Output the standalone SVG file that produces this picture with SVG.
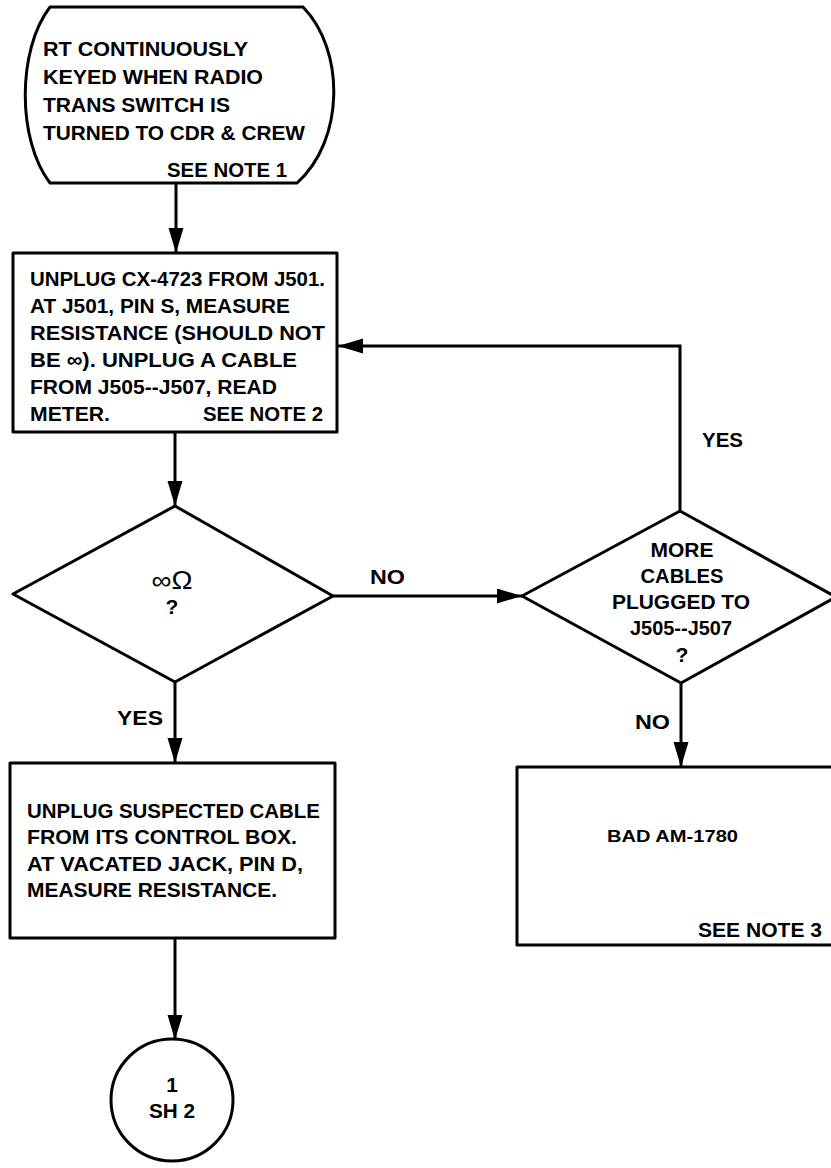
<svg xmlns="http://www.w3.org/2000/svg" width="831" height="1168" viewBox="0 0 831 1168">
<defs>
<marker id="arr" markerUnits="userSpaceOnUse" markerWidth="26" markerHeight="16" refX="25" refY="7.5" orient="auto">
<path d="M0,0 L25,7.5 L0,15 z" fill="#000"/>
</marker>
<style>
.shape{fill:#fff;stroke:#000;stroke-width:3;stroke-linejoin:round}
.conn{fill:none;stroke:#000;stroke-width:3;marker-end:url(#arr)}
text{font-family:"Liberation Sans",Arial,sans-serif;font-weight:bold;font-size:21px;fill:#000}
.c{text-anchor:middle}
.thin{font-weight:bold;font-size:17px}
.sym{font-size:25px;font-weight:normal}
</style>
</defs>
<rect width="831" height="1168" fill="#fff"/>

<g id="connectors">
<path class="conn" d="M176,184 L176,253"/>
<path class="conn" d="M175,433 L175,506"/>
<path class="conn" d="M333,596 L522,596"/>
<path class="conn" d="M680,511 L680,346 L338,346"/>
<path class="conn" d="M175,682 L175,763"/>
<path class="conn" d="M681,683 L681,767"/>
<path class="conn" d="M175,938 L175,1040"/>
<text x="370" y="584" textLength="35" lengthAdjust="spacingAndGlyphs">NO</text>
<text x="702" y="447" textLength="41" lengthAdjust="spacingAndGlyphs">YES</text>
<text x="117" y="725" textLength="46" lengthAdjust="spacingAndGlyphs">YES</text>
<text x="635" y="729" textLength="35" lengthAdjust="spacingAndGlyphs">NO</text>
</g>

<g id="start">
<path class="shape" d="M50,7 L303,7 C345,50 345,140 297,183 L50,183 C17,140 17,50 50,7 Z"/>
<text x="43" y="56" textLength="205" lengthAdjust="spacingAndGlyphs">RT CONTINUOUSLY</text>
<text x="43" y="84" textLength="220" lengthAdjust="spacingAndGlyphs">KEYED WHEN RADIO</text>
<text x="43" y="112" textLength="187" lengthAdjust="spacingAndGlyphs">TRANS SWITCH IS</text>
<text x="43" y="140" textLength="262" lengthAdjust="spacingAndGlyphs">TURNED TO CDR &amp; CREW</text>
<text x="167" y="177" textLength="120" lengthAdjust="spacingAndGlyphs">SEE NOTE 1</text>
</g>

<g id="step1">
<rect class="shape" x="13" y="253" width="324" height="179"/>
<text x="30" y="286" textLength="295" lengthAdjust="spacingAndGlyphs">UNPLUG CX-4723 FROM J501.</text>
<text x="30" y="313" textLength="260" lengthAdjust="spacingAndGlyphs">AT J501, PIN S, MEASURE</text>
<text x="30" y="340" textLength="295" lengthAdjust="spacingAndGlyphs">RESISTANCE (SHOULD NOT</text>
<text x="30" y="367" textLength="267" lengthAdjust="spacingAndGlyphs">BE ∞).  UNPLUG A CABLE</text>
<text x="30" y="394" textLength="247" lengthAdjust="spacingAndGlyphs">FROM J505--J507, READ</text>
<text x="30" y="421" textLength="80" lengthAdjust="spacingAndGlyphs">METER.</text>
<text x="203" y="421" textLength="120" lengthAdjust="spacingAndGlyphs">SEE NOTE 2</text>
</g>

<g id="decision1">
<path class="shape" d="M175,506 L333,596 L175,682 L13,594 Z"/>
<text class="c sym" x="172" y="589" textLength="41" lengthAdjust="spacingAndGlyphs">∞Ω</text>
<text class="c" x="172" y="614">?</text>
</g>

<g id="decision2">
<path class="shape" d="M680,511 L836,597 L681,683 L522,596 Z"/>
<text class="c" x="682" y="557" textLength="63" lengthAdjust="spacingAndGlyphs">MORE</text>
<text class="c" x="682" y="583" textLength="83" lengthAdjust="spacingAndGlyphs">CABLES</text>
<text class="c" x="681" y="609" textLength="138" lengthAdjust="spacingAndGlyphs">PLUGGED TO</text>
<text class="c" x="681" y="635" textLength="102" lengthAdjust="spacingAndGlyphs">J505--J507</text>
<text class="c" x="682" y="662">?</text>
</g>

<g id="step2">
<rect class="shape" x="10" y="763" width="325" height="175"/>
<text x="27" y="818" textLength="293" lengthAdjust="spacingAndGlyphs">UNPLUG SUSPECTED CABLE</text>
<text x="27" y="844" textLength="270" lengthAdjust="spacingAndGlyphs">FROM ITS CONTROL BOX.</text>
<text x="27" y="871" textLength="276" lengthAdjust="spacingAndGlyphs">AT VACATED JACK, PIN D,</text>
<text x="27" y="897" textLength="250" lengthAdjust="spacingAndGlyphs">MEASURE RESISTANCE.</text>
</g>

<g id="result">
<rect class="shape" x="517" y="767" width="330" height="178"/>
<text class="thin" x="607" y="842" textLength="131" lengthAdjust="spacingAndGlyphs">BAD AM-1780</text>
<text x="698" y="937" textLength="124" lengthAdjust="spacingAndGlyphs">SEE NOTE 3</text>
</g>

<g id="offpage">
<circle class="shape" cx="172" cy="1100" r="61"/>
<text class="c" x="172" y="1092">1</text>
<text class="c" x="172" y="1118" textLength="46" lengthAdjust="spacingAndGlyphs">SH 2</text>
</g>
</svg>
